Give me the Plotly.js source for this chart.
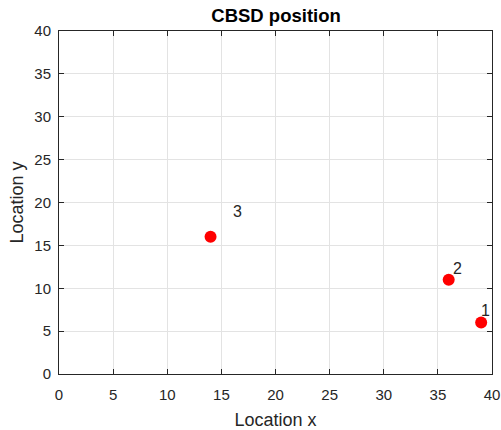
<!DOCTYPE html>
<html>
<head>
<meta charset="utf-8">
<script src="https://cdn.plot.ly/plotly-3.0.1.min.js"></script>
<style>
  html, body { margin: 0; padding: 0; background: #fff; }
  #chart { width: 501px; height: 430px; }
</style>
</head>
<body>
<div id="chart"></div>
<script>
// CBSD device locations
const cbsdIds = ['1', '2', '3'];
const cbsdX = [39, 36, 14];
const cbsdY = [6, 11, 16];

// Where each device's number label sits
const labelX = [38.8, 36.2, 15.9];
const labelY = [7.4, 12.3, 19.0];

const xTicks = [0, 5, 10, 15, 20, 25, 30, 35, 40];
const yTicks = [0, 5, 10, 15, 20, 25, 30, 35, 40];

const axisColor = '#262626';
const font = 'Liberation Sans, Arial, Helvetica, sans-serif';

const trace = {
  x: cbsdX,
  y: cbsdY,
  type: 'scatter',
  mode: 'markers',
  marker: { color: '#ff0000', size: 12 },
  hoverinfo: 'x+y'
};

const annotations = cbsdIds.map((id, i) => ({
  x: labelX[i],
  y: labelY[i],
  xref: 'x',
  yref: 'y',
  text: id,
  showarrow: false,
  xanchor: 'left',
  yanchor: 'middle',
  font: { family: font, size: 16, color: axisColor }
}));

const axisCommon = {
  range: [0, 40],
  showgrid: true,
  gridcolor: '#e3e3e3',
  gridwidth: 1,
  zeroline: false,
  showline: true,
  linecolor: axisColor,
  linewidth: 1,
  mirror: 'ticks',
  ticks: 'inside',
  ticklen: 5,
  tickwidth: 1,
  tickcolor: axisColor,
  tickfont: { family: font, size: 15, color: axisColor }
};

const layout = {
  width: 501,
  height: 430,
  margin: { l: 59, r: 9, t: 31, b: 56 },
  paper_bgcolor: '#ffffff',
  plot_bgcolor: '#ffffff',
  showlegend: false,
  title: {
    text: '<b>CBSD position</b>',
    font: { family: font, size: 18.5, color: '#000000' },
    x: 0.551,
    xanchor: 'center',
    y: 0.963,
    yanchor: 'middle'
  },
  xaxis: Object.assign({}, axisCommon, {
    tickvals: xTicks,
    ticktext: xTicks.map(String),
    ticklabelstandoff: 7,
    title: { text: 'Location x', font: { family: font, size: 18, color: axisColor }, standoff: 13 }
  }),
  yaxis: Object.assign({}, axisCommon, {
    tickvals: yTicks,
    ticktext: yTicks.map(String),
    ticklabelstandoff: 4,
    title: { text: 'Location y', font: { family: font, size: 18, color: axisColor }, standoff: 6 }
  }),
  annotations: annotations
};

Plotly.newPlot('chart', [trace], layout, { displayModeBar: false, staticPlot: true });
</script>
</body>
</html>
